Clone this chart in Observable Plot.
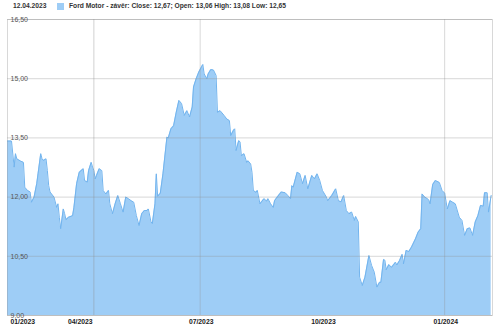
<!DOCTYPE html>
<html>
<head>
<meta charset="utf-8">
<script src="https://cdn.jsdelivr.net/npm/d3@7"></script>
<script src="https://cdn.jsdelivr.net/npm/@observablehq/plot@0.6"></script>
<style>
  html, body { margin: 0; padding: 0; background: #fff; }
  #wrap { position: relative; width: 500px; height: 331px; overflow: hidden; }
  #legend { position: relative; height: 12px; font: bold 6.7px "Liberation Sans", Arial, sans-serif; color: #333; white-space: nowrap; }
  #legend span { position: absolute; }
  #chart svg { display: block; }
</style>
</head>
<body>
<div id="wrap">
  <div id="legend">
    <span id="ldate" style="left:13px;top:2.4px"></span>
    <span id="lswatch" style="left:57px;top:3px;width:7px;height:7px"></span>
    <span id="ltext" style="left:69px;top:2.4px"></span>
  </div>
  <div id="chart"></div>
</div>
<script>
// ---- data ----
const seriesName = "Ford Motor - závěr";
const legendDate = "12.04.2023";
const ohlcLabels = ["Close", "Open", "High", "Low"];
const ohlcValues = [12.67, 13.06, 13.08, 12.65];
const ohlcSeparators = ["; ", " ", " ", ""];

const dates = [
"2023-02-06","2023-02-09","2023-02-11","2023-02-12","2023-02-13","2023-02-16","2023-02-18","2023-02-19","2023-02-21","2023-02-23",
"2023-02-24","2023-02-26","2023-02-28","2023-03-01","2023-03-03","2023-03-04","2023-03-05","2023-03-07","2023-03-08","2023-03-09",
"2023-03-10","2023-03-13","2023-03-15","2023-03-16","2023-03-17","2023-03-18","2023-03-20","2023-03-21","2023-03-22","2023-03-24",
"2023-03-27","2023-03-28","2023-03-30","2023-04-01","2023-04-04","2023-04-05","2023-04-07","2023-04-08","2023-04-10","2023-04-11",
"2023-04-12","2023-04-13","2023-04-14","2023-04-16","2023-04-18","2023-04-19","2023-04-21","2023-04-23","2023-04-24","2023-04-26",
"2023-04-28","2023-04-30","2023-05-02","2023-05-04","2023-05-06","2023-05-08","2023-05-10","2023-05-12","2023-05-14","2023-05-16",
"2023-05-18","2023-05-20","2023-05-22","2023-05-23","2023-05-25","2023-05-26","2023-05-28","2023-05-29","2023-05-30","2023-06-01",
"2023-06-03","2023-06-06","2023-06-07","2023-06-09","2023-06-11","2023-06-13","2023-06-15","2023-06-17","2023-06-19","2023-06-21",
"2023-06-23","2023-06-25","2023-06-26","2023-06-28","2023-06-30","2023-07-03","2023-07-04","2023-07-06","2023-07-07","2023-07-09",
"2023-07-11","2023-07-13","2023-07-14","2023-07-16","2023-07-19","2023-07-21","2023-07-23","2023-07-24","2023-07-26","2023-07-27",
"2023-07-28","2023-07-30","2023-07-31","2023-08-01","2023-08-03","2023-08-05","2023-08-06","2023-08-08","2023-08-09","2023-08-10",
"2023-08-12","2023-08-13","2023-08-15","2023-08-18","2023-08-20","2023-08-21","2023-08-23","2023-08-25","2023-08-26","2023-08-28",
"2023-08-31","2023-09-03","2023-09-05","2023-09-07","2023-09-08","2023-09-09","2023-09-12","2023-09-14","2023-09-16","2023-09-18",
"2023-09-20","2023-09-23","2023-09-25","2023-09-27","2023-09-29","2023-10-01","2023-10-04","2023-10-05","2023-10-08","2023-10-11",
"2023-10-13","2023-10-15","2023-10-17","2023-10-19","2023-10-21","2023-10-23","2023-10-25","2023-10-26","2023-10-28","2023-10-29",
"2023-10-31","2023-11-02","2023-11-05","2023-11-07","2023-11-09","2023-11-11","2023-11-13","2023-11-14","2023-11-16","2023-11-17",
"2023-11-18","2023-11-20","2023-11-22","2023-11-25","2023-11-26","2023-11-28","2023-11-30","2023-12-01","2023-12-03","2023-12-05",
"2023-12-07","2023-12-10","2023-12-12","2023-12-14","2023-12-15","2023-12-17","2023-12-19","2023-12-20","2023-12-21","2023-12-23",
"2023-12-25","2023-12-28","2023-12-30","2024-01-01","2024-01-03","2024-01-05","2024-01-07","2024-01-09","2024-01-12","2024-01-14",
"2024-01-16","2024-01-18","2024-01-20","2024-01-22","2024-01-24","2024-01-26","2024-01-28","2024-01-30","2024-01-31","2024-02-02",
"2024-02-03","2024-02-05"
];
const closes = [
13.42,13.42,12.76,13.10,12.97,12.91,12.88,12.25,12.17,12.13,
11.87,12.00,12.34,12.59,13.10,12.97,12.93,12.97,12.67,12.29,
12.13,12.00,11.74,11.83,11.49,11.20,11.70,11.58,11.43,11.49,
11.53,11.74,12.34,12.63,12.72,12.42,12.38,12.67,12.88,12.76,
12.67,12.46,12.55,12.72,12.67,12.17,12.08,12.17,11.83,11.58,
11.83,12.04,11.83,11.62,12.00,11.96,11.91,11.87,11.53,11.28,
11.58,11.66,11.66,11.70,11.37,11.33,11.83,12.59,12.02,12.10,
12.59,13.52,13.50,13.73,13.81,14.15,14.45,14.37,14.07,14.19,
14.03,14.28,14.79,15.00,15.17,15.36,15.12,15.00,15.12,15.23,
15.22,15.08,14.15,14.19,14.07,13.98,13.94,13.56,13.69,13.73,
13.18,13.43,13.40,13.05,13.10,12.88,12.92,12.84,12.63,12.17,
12.12,12.17,11.83,11.96,11.90,11.96,11.83,11.74,11.91,12.00,
12.13,12.11,12.04,11.96,12.29,12.25,12.63,12.59,12.34,12.55,
12.21,12.55,12.46,12.59,12.42,12.17,12.00,11.91,12.04,12.21,
11.91,11.88,12.04,11.66,11.58,11.62,11.41,11.51,11.37,9.97,
9.76,9.97,10.52,10.27,10.10,9.72,9.84,9.84,10.42,10.40,
10.16,10.29,10.22,10.35,10.28,10.39,10.55,10.31,10.65,10.62,
10.73,10.94,11.11,11.20,12.08,12.00,11.96,11.93,11.83,12.32,
12.42,12.37,12.17,12.10,11.70,11.91,11.87,11.83,11.49,11.41,
11.03,11.20,11.22,11.03,11.37,11.53,11.79,11.77,12.11,12.11,
11.62,12.04
];

const xDomain = ["2023-02-06", "2024-02-06"];
const yTicks = [9, 10.5, 12, 13.5, 15, 16.5];
const xTickDates = ["2023-01-01", "2023-04-01", "2023-07-01", "2023-10-01", "2024-01-01"];
const xTickLabels = ["01/2023", "04/2023", "07/2023", "10/2023", "01/2024"];
const xGridDates = ["2023-07-01", "2024-01-01"];
const crosshairDate = "2023-04-12";

// ---- build ----
const fillColor = "#9ecdf6";
const lineColor = "#72b4ee";
const parse = d3.utcParse("%Y-%m-%d");
const data = dates.map((d, i) => ({date: parse(d), close: closes[i]}));
const dom = xDomain.map(parse);
const czNum = v => d3.format(".2f")(v).replace(".", ",");

document.getElementById("ldate").textContent = legendDate;
document.getElementById("lswatch").style.background = fillColor;
document.getElementById("ltext").textContent = seriesName + ": " +
  ohlcLabels.map((l, i) => `${l}: ${czNum(ohlcValues[i])}${ohlcSeparators[i]}`).join("");

const ticks = xTickDates.map((d, i) => ({date: parse(d), label: xTickLabels[i]}));
const firstTick = ticks.filter(t => t.date < dom[0]).map(t => ({date: dom[0], label: t.label}));
const otherTicks = ticks.filter(t => t.date >= dom[0]);

const gridColor = "#8f8f8f";
const chart = Plot.plot({
  width: 500,
  height: 319,
  marginTop: 7,
  marginBottom: 16,
  marginLeft: 7,
  marginRight: 8,
  x: {type: "utc", domain: dom, axis: null},
  y: {domain: [yTicks[0], yTicks[yTicks.length - 1]], axis: null},
  style: {fontFamily: "'Liberation Sans', Arial, sans-serif", background: "white"},
  marks: [
    Plot.areaY(data, {x: "date", y: "close", fill: fillColor, clip: true}),
    Plot.lineY(data, {x: "date", y: "close", stroke: lineColor, strokeWidth: 1, clip: true}),
    Plot.ruleY(yTicks, {stroke: gridColor, strokeOpacity: 0.35}),
    Plot.ruleX(xGridDates.map(parse), {stroke: gridColor, strokeOpacity: 0.35}),
    Plot.ruleX([parse(crosshairDate)], {stroke: gridColor, strokeOpacity: 0.4}),
    Plot.frame({stroke: gridColor, strokeOpacity: 0.35}),
    Plot.text(yTicks, {y: d => d, text: d => czNum(d), frameAnchor: "left", textAnchor: "start", dx: 3,
      fontSize: 7, fill: "#555", ariaLabel: "ylabels"}),
    Plot.text(firstTick, {x: "date", text: "label", frameAnchor: "bottom", textAnchor: "start", dx: 3, dy: 8.5,
      fontSize: 6.8, fontWeight: "bold", fill: "#222"}),
    Plot.text(otherTicks, {x: "date", text: "label", frameAnchor: "bottom", dx: 1, dy: 8.5,
      fontSize: 6.8, fontWeight: "bold", fill: "#222"})
  ]
});
document.getElementById("chart").appendChild(chart);

// white label boxes behind the y labels
const g = chart.querySelector('g[aria-label="ylabels"]');
if (g) {
  const texts = Array.from(g.querySelectorAll("text"));
  const boxes = texts.map(t => t.getBBox());
  const right = d3.max(boxes, b => b.x + b.width) + 2;
  texts.forEach((t, i) => {
    const b = boxes[i];
    const r = document.createElementNS("http://www.w3.org/2000/svg", "rect");
    const tr = t.getAttribute("transform");
    if (tr) r.setAttribute("transform", tr);
    r.setAttribute("x", b.x - 3);
    r.setAttribute("y", b.y + 0.5);
    r.setAttribute("width", right - b.x + 3);
    r.setAttribute("height", b.height - 1);
    r.setAttribute("fill", "white");
    r.setAttribute("fill-opacity", 0.85);
    g.insertBefore(r, t);
  });
}
</script>
</body>
</html>
